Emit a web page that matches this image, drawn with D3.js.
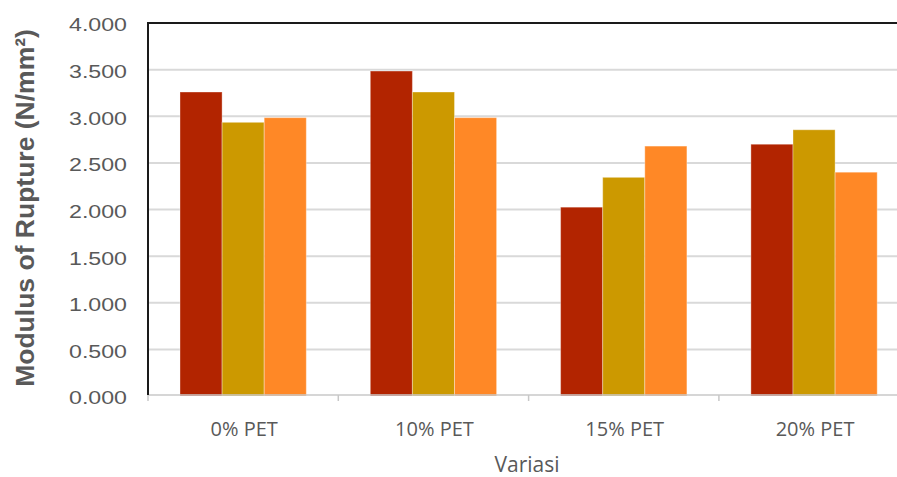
<!DOCTYPE html>
<html>
<head>
<meta charset="utf-8">
<script src="https://cdn.jsdelivr.net/npm/d3@7"></script>
<style>
  html, body { margin: 0; padding: 0; background: #fff; }
  svg { display: block; }
</style>
</head>
<body>
<svg id="chart" width="897" height="477"></svg>
<script>
// Modulus of Rupture per PET variation, three specimens each
const categories = ["0% PET", "10% PET", "15% PET", "20% PET"];
const specimens = ["Sampel 1", "Sampel 2", "Sampel 3"];
const sample1 = [3.26, 3.485, 2.025, 2.70];
const sample2 = [2.935, 3.26, 2.345, 2.855];
const sample3 = [2.985, 2.985, 2.68, 2.40];
const yTicks = [0, 0.5, 1, 1.5, 2, 2.5, 3, 3.5, 4];
const colors = ["#B22400", "#CC9900", "#FF8826"];

const series = [sample1, sample2, sample3];

const svg = d3.select("#chart");
const plotLeft = 148, plotTop = 23, plotBottom = 396;
const bandW = 190.3;

const x = d3.scaleBand()
  .domain(categories)
  .range([plotLeft, plotLeft + bandW * categories.length])
  .paddingInner(0)
  .paddingOuter(0);

const inner = d3.scaleBand()
  .domain(specimens)
  .range([0, bandW])
  .paddingInner(0)
  .paddingOuter(0.76);

const y = d3.scaleLinear().domain([0, 4]).range([plotBottom, plotTop]);

// horizontal gridlines
svg.append("g")
  .selectAll("line")
  .data(yTicks.filter(d => d > 0 && d < 4))
  .join("line")
  .attr("x1", plotLeft)
  .attr("x2", 897)
  .attr("y1", d => y(d))
  .attr("y2", d => y(d))
  .attr("stroke", "#d9d9d9")
  .attr("stroke-width", 2);

// bars
const groups = svg.append("g")
  .selectAll("g")
  .data(categories)
  .join("g")
  .attr("transform", d => `translate(${x(d)},0)`);

groups.selectAll("rect")
  .data((c, i) => series.map((s, j) => ({ key: specimens[j], value: s[i], color: colors[j] })))
  .join("rect")
  .attr("x", d => inner(d.key))
  .attr("width", inner.bandwidth())
  .attr("y", d => y(d.value))
  .attr("height", d => y(0) - y(d.value))
  .attr("fill", d => d.color)
  .attr("stroke", "rgba(255,255,255,0.35)")
  .attr("stroke-width", 1);

// x axis baseline and category ticks
svg.append("line")
  .attr("x1", plotLeft).attr("x2", 897)
  .attr("y1", plotBottom - 1).attr("y2", plotBottom - 1)
  .attr("stroke", "#c8c8c8").attr("stroke-width", 1.5);

svg.append("g")
  .selectAll("line")
  .data(d3.range(categories.length + 1))
  .join("line")
  .attr("x1", i => plotLeft + i * bandW)
  .attr("x2", i => plotLeft + i * bandW)
  .attr("y1", plotBottom - 1)
  .attr("y2", plotBottom + 5)
  .attr("stroke", "#c8c8c8")
  .attr("stroke-width", 1.5);

svg.append("g")
  .selectAll("text")
  .data(categories)
  .join("text")
  .attr("x", d => x(d) + x.bandwidth() / 2 + 1)
  .attr("y", 436)
  .attr("text-anchor", "middle")
  .attr("font-family", "'Open Sans', Lato, sans-serif")
  .attr("font-size", 20)
  .attr("fill", "#595959")
  .text(d => d);

// frame: left axis and top border
svg.append("line")
  .attr("x1", plotLeft).attr("x2", plotLeft)
  .attr("y1", plotTop).attr("y2", plotBottom - 1)
  .attr("stroke", "#1a1a1a").attr("stroke-width", 2);
svg.append("line")
  .attr("x1", plotLeft - 1).attr("x2", 897)
  .attr("y1", plotTop).attr("y2", plotTop)
  .attr("stroke", "#1a1a1a").attr("stroke-width", 2);

// y axis labels (slightly widened glyphs)
const yAxis = d3.axisLeft(y).tickValues(yTicks).tickFormat(d3.format(".3f")).tickSize(0);
const yg = svg.append("g").attr("transform", `translate(${plotLeft},0)`).call(yAxis);
yg.select(".domain").remove();
yg.selectAll("text")
  .attr("x", 0)
  .attr("dy", "0.42em")
  .attr("transform", "translate(-21,0) scale(1.22,1)")
  .attr("font-family", "'Liberation Sans', Arial, sans-serif")
  .attr("font-size", 19)
  .attr("fill", "#595959");

// axis titles
svg.append("text")
  .attr("transform", "translate(34,208) rotate(-90)")
  .attr("text-anchor", "middle")
  .attr("font-family", "'Liberation Sans', Arial, sans-serif")
  .attr("font-weight", "bold")
  .attr("font-size", 26.5)
  .attr("fill", "#595959")
  .text("Modulus of Rupture (N/mm²)");

svg.append("text")
  .attr("x", 527)
  .attr("y", 472)
  .attr("text-anchor", "middle")
  .attr("font-family", "'Open Sans', Lato, sans-serif")
  .attr("font-size", 21)
  .attr("fill", "#595959")
  .text("Variasi");
</script>
</body>
</html>
